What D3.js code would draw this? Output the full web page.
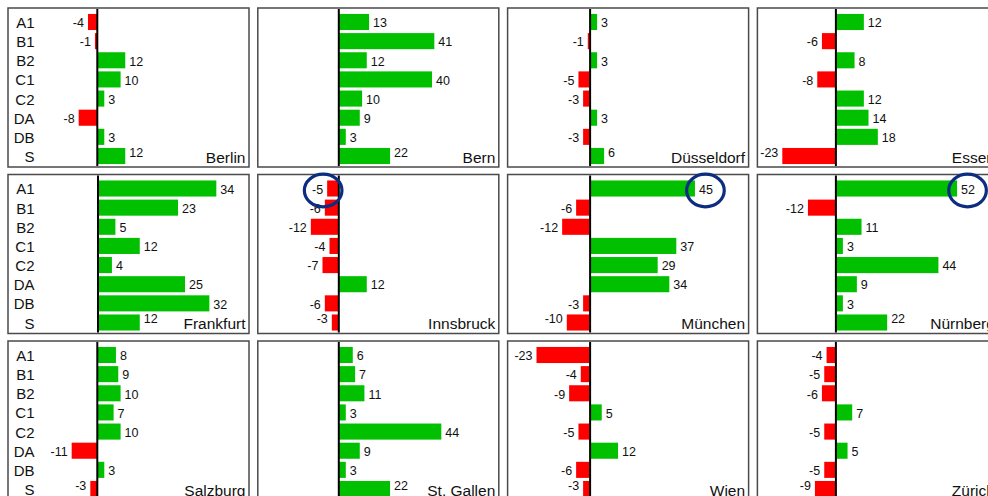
<!DOCTYPE html>
<html>
<head>
<meta charset="utf-8">
<script src="https://cdn.jsdelivr.net/npm/d3@7"></script>
<style>
  body { margin: 0; background: #fff; }
  svg { display: block; font-family: "Liberation Sans", Arial, sans-serif; }
</style>
</head>
<body>
<svg id="chart" width="988" height="496"></svg>
<script>
// data
const categories = ["A1", "B1", "B2", "C1", "C2", "DA", "DB", "S"]
const cities = ["Berlin", "Bern", "Düsseldorf", "Essen",
                "Frankfurt", "Innsbruck", "München", "Nürnberg",
                "Salzburg", "St. Gallen", "Wien", "Zürich"]

const berlin     = [-4, -1, 12, 10, 3, -8, 3, 12]
const bern       = [13, 41, 12, 40, 10, 9, 3, 22]
const duesseldorf = [3, -1, 3, -5, -3, 3, -3, 6]
const essen      = [12, -6, 8, -8, 12, 14, 18, -23]
const frankfurt  = [34, 23, 5, 12, 4, 25, 32, 12]
const innsbruck  = [-5, -6, -12, -4, -7, 12, -6, -3]
const muenchen   = [45, -6, -12, 37, 29, 34, -3, -10]
const nuernberg  = [52, -12, 11, 3, 44, 9, 3, 22]
const salzburg   = [8, 9, 10, 7, 10, -11, 3, -3]
const stgallen   = [6, 7, 11, 3, 44, 9, 3, 22]
const wien       = [-23, -4, -9, 5, -5, 12, -6, -3]
const zuerich    = [-4, -5, -6, 7, -5, 5, -5, -9]

const series = [berlin, bern, duesseldorf, essen, frankfurt, innsbruck,
                muenchen, nuernberg, salzburg, stgallen, wien, zuerich]

// circled labels
const marks = [
    {city: "Innsbruck", cat: "A1"},
    {city: "München", cat: "A1"},
    {city: "Nürnberg", cat: "A1"}
]

// layout
const panelW = 241, panelH = 159
const colStep = 249.8, rowStep = 166.5
const zeroAt = [89.3, 81, 82.5, 78.5]   // zero line inside each column
const green = "#00c000", red = "#ff0000"

const svg = d3.select("#chart")

const y = d3.scaleBand()
    .domain(categories)
    .range([5, 157])
    .paddingInner(0.16)
    .paddingOuter(0.05)

cities.forEach((city, i) => {
    const col = i % 4, row = Math.floor(i / 4)
    const values = series[i]

    // Frankfurt is drawn at its own (larger) scale
    const k = city === "Frankfurt" ? 3.48 : 2.33
    const z = city === "Frankfurt" ? 90 : zeroAt[col]
    const x = d3.scaleLinear()
        .domain([-z / k, (panelW - z) / k])
        .range([0, panelW])

    const g = svg.append("g")
        .attr("transform", "translate(" + (8 + col * colStep) + "," + (8 + row * rowStep) + ")")

    g.append("rect")
        .attr("x", 0).attr("y", 0)
        .attr("width", panelW).attr("height", panelH)
        .attr("fill", "#fff")
        .attr("stroke", "#4a4a4a")
        .attr("stroke-width", 1.5)

    g.selectAll("rect.bar")
        .data(values)
        .enter()
        .append("rect")
        .attr("class", "bar")
        .attr("x", d => x(Math.min(0, d)))
        .attr("width", d => Math.abs(x(d) - x(0)))
        .attr("y", (d, j) => y(categories[j]))
        .attr("height", y.bandwidth())
        .attr("fill", d => d < 0 ? red : green)

    g.append("line")
        .attr("x1", x(0)).attr("x2", x(0))
        .attr("y1", 1).attr("y2", panelH - 1)
        .attr("stroke", "#000")
        .attr("stroke-width", 2)

    g.selectAll("text.val")
        .data(values)
        .enter()
        .append("text")
        .attr("class", "val")
        .attr("x", d => d < 0 ? x(d) - 4 : x(d) + 4)
        .attr("y", (d, j) => y(categories[j]) + y.bandwidth() / 2 + (j === categories.length - 1 ? -4.5 : 0))
        .attr("dy", "0.42em")
        .attr("text-anchor", d => d < 0 ? "end" : "start")
        .attr("font-size", "12.5px")
        .attr("fill", "#111")
        .text(d => d)

    if (col === 0) {
        g.selectAll("text.cat")
            .data(categories)
            .enter()
            .append("text")
            .attr("class", "cat")
            .attr("x", 26.5)
            .attr("y", d => y(d) + y.bandwidth() / 2)
            .attr("dy", "0.4em")
            .attr("text-anchor", "end")
            .attr("font-size", "15px")
            .attr("fill", "#111")
            .text(d => d)
    }

    g.append("text")
        .attr("x", panelW - 3.5)
        .attr("y", panelH - 4.5)
        .attr("text-anchor", "end")
        .attr("font-size", "15.5px")
        .attr("fill", "#111")
        .text(city)

    marks.filter(m => m.city === city).forEach(m => {
        const v = values[categories.indexOf(m.cat)]
        g.append("ellipse")
            .attr("cx", v < 0 ? x(v) - 4 : x(v) + 10.5)
            .attr("cy", y(m.cat) + y.bandwidth() / 2 + 2)
            .attr("rx", 18.8)
            .attr("ry", 16.3)
            .attr("fill", "none")
            .attr("stroke", "#0c2d80")
            .attr("stroke-width", 3.2)
    })
})
</script>
</body>
</html>
